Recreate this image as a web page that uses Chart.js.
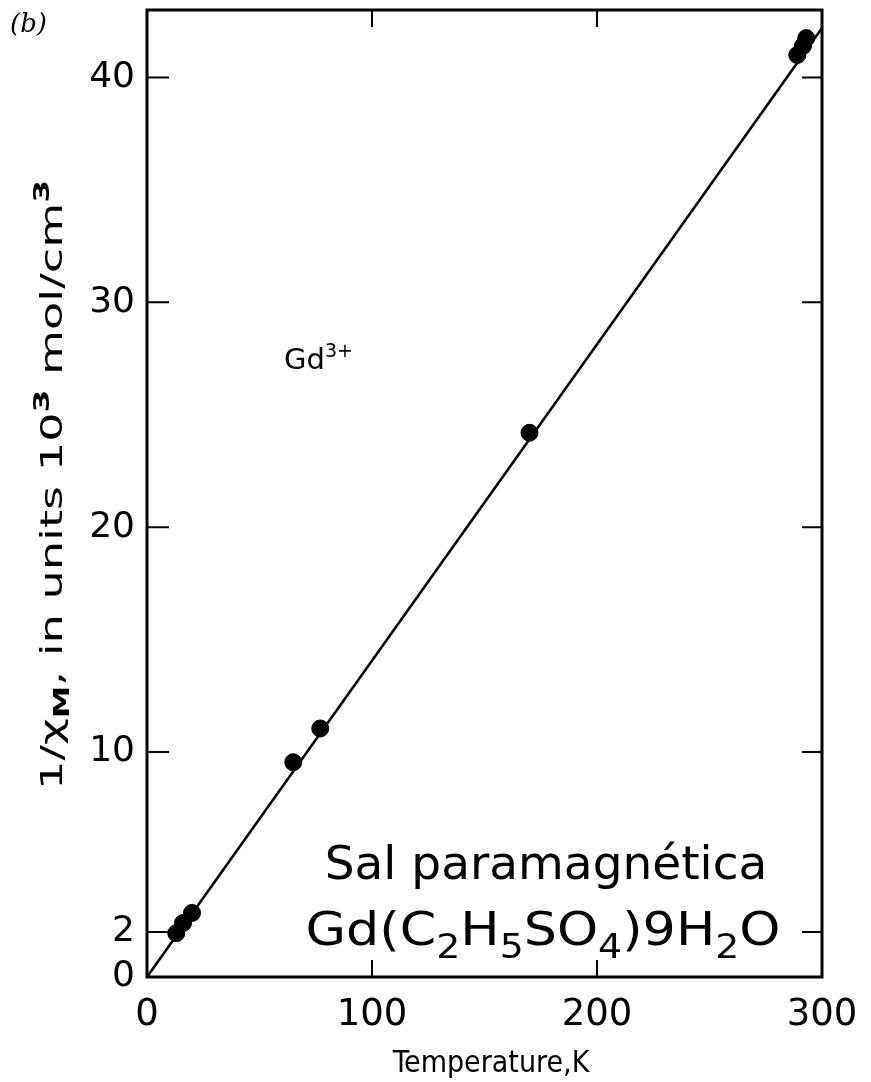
<!DOCTYPE html>
<html>
<head>
<meta charset="utf-8">
<script src="https://cdn.jsdelivr.net/npm/chart.js@4/dist/chart.umd.min.js"></script>
<style>
  html, body { margin: 0; padding: 0; background: #ffffff; }
  #wrap { width: 871px; height: 1082px; position: relative; }
</style>
</head>
<body>
<div id="wrap"><canvas id="c" width="871" height="1082"></canvas></div>
<script>
// ---- data ----
const temperatureK = [13, 16, 20, 65, 77, 170, 289, 291.5, 293];
const inverseChi = [1.95, 2.4, 2.85, 9.55, 11.05, 24.2, 41.0, 41.4, 41.75];
const fitLineT = [0, 300];
const fitLineY = [0, 42.2];
const xTickValues = [0, 100, 200, 300];
const yTickValues = [0, 2, 10, 20, 30, 40];
const innerXTicks = [100, 200];
const innerYTicks = [2, 10, 20, 30, 40];
const xRange = [0, 300];
const yRange = [0, 43];

const measured = temperatureK.map((t, i) => ({ x: t, y: inverseChi[i] }));
const fitLine = fitLineT.map((t, i) => ({ x: t, y: fitLineY[i] }));

function richWidth(ctx, segs) {
  let total = 0;
  segs.forEach(s => { ctx.font = s.font; total += ctx.measureText(s.t).width; });
  return total;
}
function drawRich(ctx, segs, x, y, align) {
  const total = richWidth(ctx, segs);
  let cx = align === 'center' ? x - total / 2 : (align === 'right' ? x - total : x);
  ctx.textAlign = 'left';
  ctx.textBaseline = 'alphabetic';
  segs.forEach(s => {
    ctx.font = s.font;
    ctx.fillText(s.t, cx, y + (s.dy || 0));
    cx += ctx.measureText(s.t).width;
  });
}

const decor = {
  id: 'decor',
  afterDraw(chart) {
    const ctx = chart.ctx;
    const a = chart.chartArea;
    const xs = chart.scales.x, ys = chart.scales.y;
    ctx.save();
    ctx.strokeStyle = '#000';
    ctx.fillStyle = '#000';
    // frame
    ctx.lineWidth = 3;
    ctx.strokeRect(a.left, a.top, a.right - a.left, a.bottom - a.top);
    // inward ticks
    ctx.lineWidth = 2;
    innerXTicks.forEach(v => {
      const px = xs.getPixelForValue(v);
      ctx.beginPath();
      ctx.moveTo(px, a.bottom); ctx.lineTo(px, a.bottom - 17);
      ctx.moveTo(px, a.top); ctx.lineTo(px, a.top + 17);
      ctx.stroke();
    });
    innerYTicks.forEach(v => {
      const py = ys.getPixelForValue(v);
      ctx.beginPath();
      ctx.moveTo(a.left, py); ctx.lineTo(a.left + 22, py);
      ctx.moveTo(a.right, py); ctx.lineTo(a.right - 20, py);
      ctx.stroke();
    });
    // x title
    ctx.font = '30px "DejaVu Sans Condensed", "DejaVu Sans"';
    ctx.textAlign = 'center';
    ctx.textBaseline = 'alphabetic';
    ctx.fillText('Temperature,K', 491, 1072);
    // y title (rotated, with sub/superscripts), stretched to the reference length
    ctx.save();
    ctx.translate(50, 485);
    ctx.rotate(-Math.PI / 2);
    const f = '31px "DejaVu Sans Condensed", "DejaVu Sans"';
    const fs = 'bold 22px "DejaVu Sans Condensed", "DejaVu Sans"';
    const ySegs = [
      { t: '1/χ', font: f },
      { t: 'M', font: fs, dy: 7 },
      { t: ', in units 10', font: f },
      { t: '3', font: fs, dy: -13 },
      { t: ' mol/cm', font: f },
      { t: '3', font: fs, dy: -13 }
    ];
    const w = richWidth(ctx, ySegs);
    ctx.scale(610 / w, 1);
    drawRich(ctx, ySegs, 0, 12, 'center');
    ctx.restore();
    // panel label
    ctx.font = 'italic 26px "DejaVu Serif", serif';
    ctx.textAlign = 'left';
    ctx.fillText('(b)', 10, 32);
    // ion label
    drawRich(ctx, [
      { t: 'Gd', font: '29px "DejaVu Sans"' },
      { t: '3+', font: '19px "DejaVu Sans"', dy: -12 }
    ], 284, 369, 'left');
    // sample annotation
    const big = '47px "DejaVu Sans"';
    const sub = '34px "DejaVu Sans"';
    ctx.font = big;
    ctx.textAlign = 'center';
    ctx.fillText('Sal paramagnética', 546, 879);
    const fSegs = [
      { t: 'Gd(C', font: big },
      { t: '2', font: sub, dy: 13 },
      { t: 'H', font: big },
      { t: '5', font: sub, dy: 13 },
      { t: 'SO', font: big },
      { t: '4', font: sub, dy: 13 },
      { t: ')9H', font: big },
      { t: '2', font: sub, dy: 13 },
      { t: 'O', font: big }
    ];
    ctx.save();
    ctx.translate(543, 945);
    const fw = richWidth(ctx, fSegs);
    ctx.scale(Math.max(1, 475 / fw), 1);
    drawRich(ctx, fSegs, 0, 0, 'center');
    ctx.restore();
    ctx.restore();
  }
};

new Chart(document.getElementById('c'), {
  type: 'scatter',
  data: {
    datasets: [
      {
        label: 'fit',
        type: 'line',
        data: fitLine,
        borderColor: '#000',
        borderWidth: 2.5,
        pointRadius: 0,
        fill: false,
        tension: 0
      },
      {
        label: 'Gd3+',
        data: measured,
        backgroundColor: '#000',
        borderColor: '#000',
        pointRadius: 8.5,
        pointHoverRadius: 8.5
      }
    ]
  },
  options: {
    responsive: false,
    animation: false,
    devicePixelRatio: 1,
    layout: { padding: { top: 10, right: 49, left: 0, bottom: 0 } },
    plugins: { legend: { display: false }, tooltip: { enabled: false } },
    scales: {
      x: {
        type: 'linear',
        min: xRange[0], max: xRange[1],
        afterBuildTicks: s => { s.ticks = xTickValues.map(v => ({ value: v })); },
        afterFit: s => { s.height = 105; s.paddingLeft = 0; s.paddingRight = 0; },
        grid: { display: false, drawTicks: false },
        border: { display: false },
        ticks: {
          padding: 16,
          color: '#000',
          font: { family: '"DejaVu Sans"', size: 37 },
          maxRotation: 0,
          autoSkip: false
        }
      },
      y: {
        type: 'linear',
        min: yRange[0], max: yRange[1],
        afterBuildTicks: s => { s.ticks = yTickValues.map(v => ({ value: v })); },
        afterFit: s => { s.width = 147; s.paddingTop = 0; s.paddingBottom = 0; },
        grid: { display: false, drawTicks: false },
        border: { display: false },
        ticks: {
          padding: 12,
          color: '#000',
          font: { family: '"DejaVu Sans"', size: 36 },
          autoSkip: false
        }
      }
    }
  },
  plugins: [decor]
});
</script>
</body>
</html>
